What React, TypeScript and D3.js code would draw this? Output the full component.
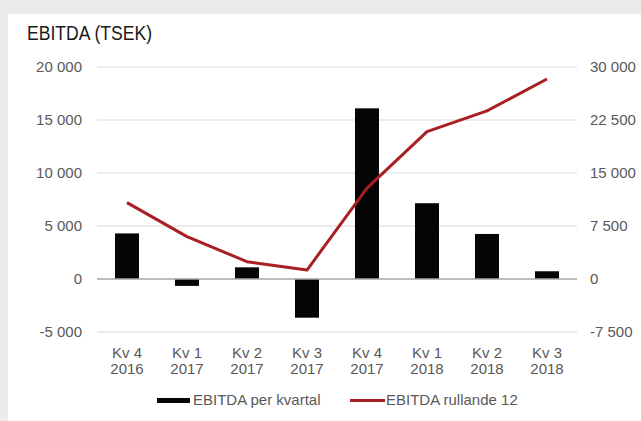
import * as d3 from "d3";

const quarters = ["Kv 4", "Kv 1", "Kv 2", "Kv 3", "Kv 4", "Kv 1", "Kv 2", "Kv 3"];
const years = ["2016", "2017", "2017", "2017", "2017", "2018", "2018", "2018"];
const perKvartal = [4300, -650, 1100, -3650, 16100, 7150, 4250, 730];
const rullande12 = [10800, 6000, 2450, 1270, 12850, 20850, 23800, 28300];
const leftTicks = [-5000, 0, 5000, 10000, 15000, 20000];
const rightTicks = [-7500, 0, 7500, 15000, 22500, 30000];

const width = 641;
const height = 421;
const marginLeft = 97;
const marginRight = 64;
const plotTop = 67;
const plotBottom = 332;

// space as thousands separator, plain hyphen for negatives
const fmt = (v: number) => d3.format(",")(v).replace(/,/g, " ").replace("\u2212", "-");

export default function App() {
  const idx = quarters.map((_, i) => i);
  const x = d3
    .scaleBand<number>()
    .domain(idx)
    .range([marginLeft, width - marginRight])
    .paddingInner(0.6)
    .paddingOuter(0.3);
  const step = x.step();
  const center = (i: number) => x(i)! + x.bandwidth() / 2;

  const yL = d3.scaleLinear().domain([-5000, 20000]).range([plotBottom, plotTop]);
  const yR = d3.scaleLinear().domain([-7500, 30000]).range([plotBottom, plotTop]);

  const line = d3
    .line<number>()
    .x((_, i) => center(i))
    .y((d) => yR(d));

  const font = "Liberation Sans, Arial, sans-serif";
  const x0 = marginLeft;
  const x1 = marginLeft + step * quarters.length;
  const fs = 15;

  return (
    <svg
      width={width}
      height={height}
      style={{ position: "absolute", left: 0, top: 0 }}
      fontFamily={font}
    >
      <rect x={0} y={0} width={width} height={height} fill="#ebebeb" />
      <rect x={8} y={14} width={width - 8} height={height - 14} fill="#ffffff" />

      <text x={27} y={40} fontSize={20} fill="#1a1a1a" textLength={125} lengthAdjust="spacingAndGlyphs">
        EBITDA (TSEK)
      </text>

      {/* gridlines */}
      {leftTicks
        .filter((t) => t !== 0)
        .map((t) => (
          <line key={t} x1={x0} x2={x1} y1={yL(t)} y2={yL(t)} stroke="#d9d9d9" strokeWidth={1} />
        ))}

      {/* left axis labels */}
      {leftTicks.map((t) => (
        <text key={t} x={82} y={yL(t) + 5} fontSize={fs} fill="#595959" textAnchor="end">
          {fmt(t)}
        </text>
      ))}

      {/* right axis labels */}
      {rightTicks.map((t) => (
        <text key={t} x={590} y={yR(t) + 5} fontSize={fs} fill="#595959" textAnchor="start">
          {fmt(t)}
        </text>
      ))}

      {/* bars */}
      {perKvartal.map((v, i) => (
        <rect
          key={i}
          x={x(i)}
          y={Math.min(yL(v), yL(0))}
          width={x.bandwidth()}
          height={Math.abs(yL(v) - yL(0))}
          fill="#050505"
        />
      ))}

      {/* zero line */}
      <line x1={x0} x2={x1} y1={yL(0)} y2={yL(0)} stroke="#a6a6a6" strokeWidth={1.5} />

      {/* line */}
      <path d={line(rullande12) || ""} fill="none" stroke="#aa1f23" strokeWidth={3} strokeLinejoin="round" />

      {/* x labels */}
      {quarters.map((q, i) => (
        <text key={i} x={center(i)} fontSize={fs} fill="#595959" textAnchor="middle">
          <tspan x={center(i)} y={358}>{q}</tspan>
          <tspan x={center(i)} y={374}>{years[i]}</tspan>
        </text>
      ))}

      {/* legend */}
      <rect x={157} y={398} width={33} height={5} fill="#050505" />
      <text x={193} y={405} fontSize={fs} fill="#595959">
        EBITDA per kvartal
      </text>
      <line x1={350} x2={385} y1={400.5} y2={400.5} stroke="#aa1f23" strokeWidth={3} />
      <text x={386} y={405} fontSize={fs} fill="#595959">
        EBITDA rullande 12
      </text>
    </svg>
  );
}
